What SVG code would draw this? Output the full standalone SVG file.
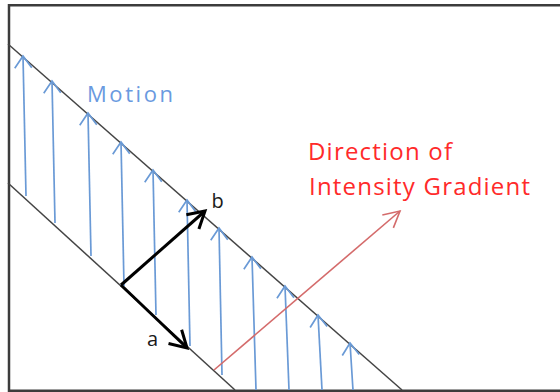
<svg xmlns="http://www.w3.org/2000/svg" width="560" height="392" viewBox="0 0 560 392">
<defs>
<style>
.frame{fill:none;stroke:#3c3c3c;stroke-width:2.5}
.edge{stroke:#444;stroke-width:1.5;fill:none}
.mv{stroke:#6a9ad6;stroke-width:1.7;fill:none;marker-end:url(#hblue)}
.vec{stroke:#000;stroke-width:3;fill:none;marker-end:url(#hblack)}
.grad{stroke:#d46b6b;stroke-width:1.6;fill:none;marker-end:url(#hred)}
.lbl{font-family:"Open Sans","Liberation Sans",sans-serif}
</style>
<marker id="hblue" markerUnits="userSpaceOnUse" orient="auto" overflow="visible" refX="0" refY="0" markerWidth="1" markerHeight="1">
<path d="M-12,-8.5 L0,0 L-12,8.5" fill="none" stroke="#6a9ad6" stroke-width="1.7"/>
</marker>
<marker id="hblack" markerUnits="userSpaceOnUse" orient="auto" overflow="visible" refX="0" refY="0" markerWidth="1" markerHeight="1">
<path d="M-16.5,-9.5 L0,0 L-16.5,9.5" fill="none" stroke="#000" stroke-width="3"/>
</marker>
<marker id="hred" markerUnits="userSpaceOnUse" orient="auto" overflow="visible" refX="0" refY="0" markerWidth="1" markerHeight="1">
<path d="M-16,-8.5 L0,0 L-16,8.5" fill="none" stroke="#d46b6b" stroke-width="1.6"/>
</marker>
</defs>
<rect width="560" height="392" fill="#fff"/>
<g id="frame">
<path class="frame" d="M560,5.3 H9 V390.7 H560"/>
</g>
<g id="band">
<line class="edge" x1="8" y1="44" x2="402" y2="390"/>
<line class="edge" x1="8" y1="183" x2="235" y2="390"/>
</g>
<g id="motion-arrows">
<line class="mv" x1="26" y1="196" x2="23" y2="56"/>
<line class="mv" x1="55" y1="223" x2="52" y2="81"/>
<line class="mv" x1="91" y1="256" x2="88" y2="113"/>
<line class="mv" x1="124" y1="286" x2="121" y2="142"/>
<line class="mv" x1="156" y1="315" x2="153" y2="170"/>
<line class="mv" x1="190" y1="346" x2="187" y2="200"/>
<line class="mv" x1="222" y1="375" x2="219" y2="228"/>
<line class="mv" x1="256" y1="390" x2="252" y2="257"/>
<line class="mv" x1="289" y1="390" x2="285" y2="286"/>
<line class="mv" x1="322" y1="390" x2="318" y2="315"/>
<line class="mv" x1="353" y1="390" x2="350" y2="343"/>
</g>
<g id="vectors">
<line id="vec-b" class="vec" x1="121" y1="285" x2="205" y2="211"/>
<line id="vec-a" class="vec" x1="121" y1="285" x2="187" y2="348"/>
</g>
<g id="gradient-arrow">
<line class="grad" x1="214" y1="370" x2="400" y2="211"/>
</g>
<g id="labels" class="lbl">
<text x="87" y="102" font-size="22" fill="#6a9ae0" textLength="86" lengthAdjust="spacing">Motion</text>
<text x="308" y="160" font-size="24" fill="#ff2a2a" textLength="144" lengthAdjust="spacing">Direction of</text>
<text x="309" y="195" font-size="24" fill="#ff2a2a" textLength="221" lengthAdjust="spacing">Intensity Gradient</text>
<text x="217.5" y="208" font-size="20" fill="#1a1a1a" text-anchor="middle">b</text>
<text x="152.5" y="346" font-size="20" fill="#1a1a1a" text-anchor="middle">a</text>
</g>
</svg>
